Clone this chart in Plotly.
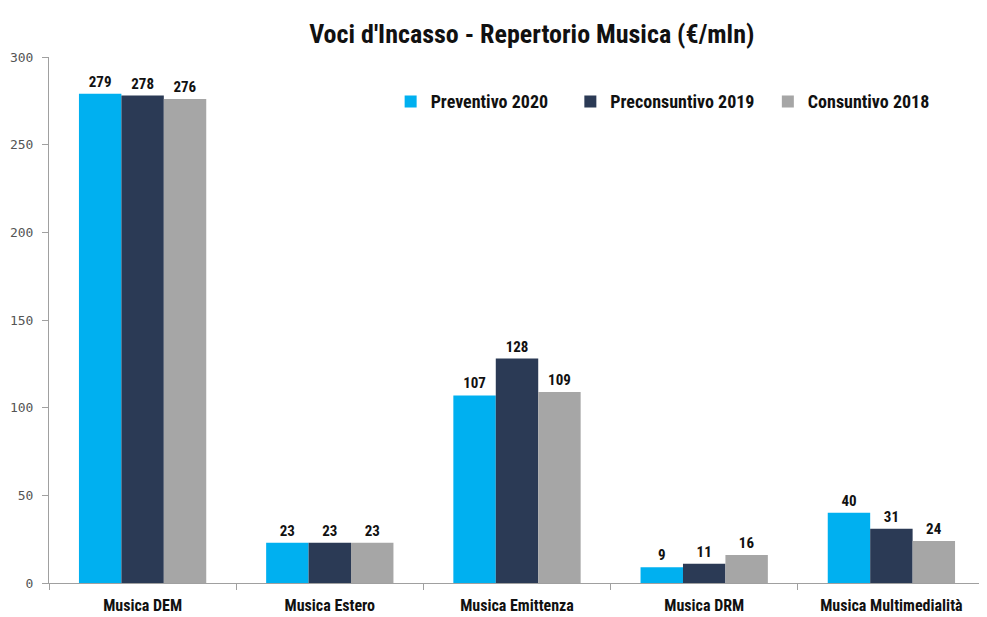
import plotly.graph_objects as go

categorie = ["Musica DEM", "Musica Estero", "Musica Emittenza", "Musica DRM", "Musica Multimedialità"]
preventivo_2020 = [279, 23, 107, 9, 40]
preconsuntivo_2019 = [278, 23, 128, 11, 31]
consuntivo_2018 = [276, 23, 109, 16, 24]

serie = [
    ("Preventivo 2020", preventivo_2020, "#00B0F0", "legend", 0.365),
    ("Preconsuntivo 2019", preconsuntivo_2019, "#2B3A55", "legend2", 0.557),
    ("Consuntivo 2018", consuntivo_2018, "#A6A6A6", "legend3", 0.768),
]

font_bold = "Roboto Condensed, DejaVu Sans Condensed, Roboto, sans-serif"

fig = go.Figure()
legende = {}
for nome, valori, colore, leg, lx in serie:
    fig.add_trace(go.Bar(
        name=f"<b>{nome}</b>",
        x=categorie,
        y=valori,
        legend=leg,
        marker=dict(color=colore, line=dict(width=0)),
        text=valori,
        textposition="outside",
        textfont=dict(family=font_bold, size=15, color="#111"),
        texttemplate="<b>%{text}</b>",
        cliponaxis=False,
    ))
    legende[leg] = dict(
        orientation="h",
        x=lx, xanchor="left",
        y=0.915, yanchor="middle",
        font=dict(family=font_bold, size=18, color="#111"),
        bgcolor="rgba(0,0,0,0)",
        itemwidth=30,
    )

# la pagina ha 8px di margine: figura ridotta per stare nella finestra
fig.update_layout(
    barmode="group",
    bargap=0.32,
    bargroupgap=0,
    width=979,
    height=609,
    plot_bgcolor="white",
    paper_bgcolor="white",
    margin=dict(l=39, r=2, t=49, b=30),
    title=dict(
        text="<b>Voci d'Incasso - Repertorio Musica (€/mln)</b>",
        x=0.535, xanchor="center", y=0.957, yanchor="middle",
        font=dict(family=font_bold, size=26, color="#111"),
    ),
    showlegend=True,
    **legende,
)

fig.update_yaxes(
    range=[0, 300],
    dtick=50,
    showgrid=False,
    showline=True,
    linecolor="#A0A0A0",
    linewidth=1,
    ticks="outside",
    ticklen=6,
    tickcolor="#A0A0A0",
    ticklabelstandoff=6,
    tickfont=dict(family="DejaVu Sans Mono, monospace", size=13, color="#555"),
    zeroline=False,
)
fig.update_xaxes(
    showline=True,
    linecolor="#A0A0A0",
    linewidth=1,
    ticks="outside",
    ticklen=6,
    tickcolor="#A0A0A0",
    tickson="boundaries",
    ticklabelstandoff=8,
    tickfont=dict(family=font_bold, size=16, color="#111"),
)
fig.for_each_xaxis(lambda ax: ax.update(ticktext=[f"<b>{c}</b>" for c in categorie], tickvals=categorie))

fig.write_html("out.html")
